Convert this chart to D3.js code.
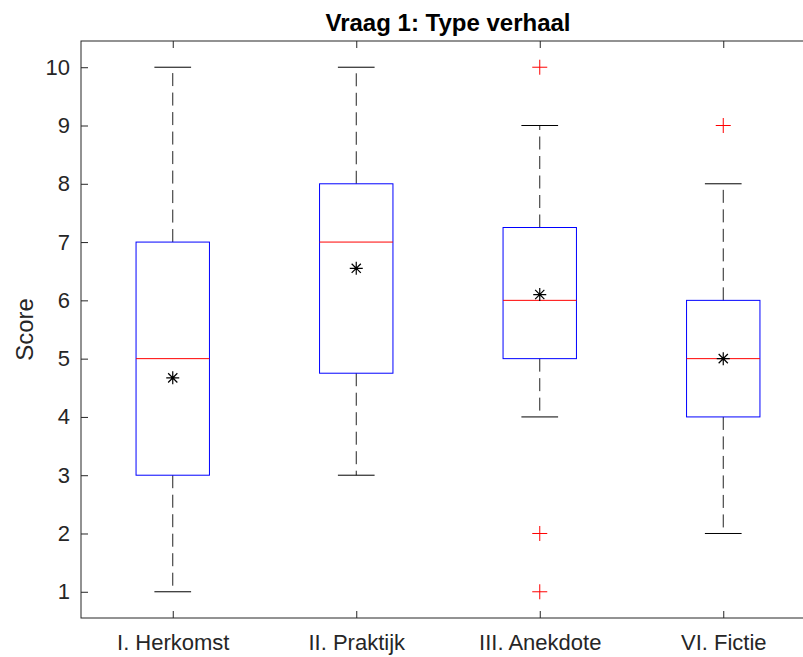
<!DOCTYPE html>
<html>
<head>
<meta charset="utf-8">
<script src="https://cdn.jsdelivr.net/npm/d3@7"></script>
<style>
  body { margin: 0; background: #fff; }
  text { font-family: "Liberation Sans", Arial, sans-serif; fill: #262626; }
</style>
</head>
<body>
<div id="chart"></div>
<script>
// Boxplot values per category
const categories = ['I. Herkomst', 'II. Praktijk', 'III. Anekdote', 'VI. Fictie']
const whiskerLow = [1, 3, 4, 2]
const q1 = [3, 4.75, 5, 4]
const medians = [5, 7, 6, 5]
const q3 = [7, 8, 7.25, 6]
const whiskerHigh = [10, 10, 9, 8]
const means = [4.67, 6.55, 6.1, 5.0]
const outliers = [[], [], [10, 2, 1], [9]]
const yTicks = [1, 2, 3, 4, 5, 6, 7, 8, 9, 10]

const width = 803,
      height = 657,
      plotLeft = 81, plotRight = 815, plotTop = 41, plotBottom = 618,
      tickLen = 7

let svg = d3.select('#chart')
  .append('svg')
  .attr('width', width)
  .attr('height', height)

let x = d3.scaleLinear()
  .domain([0.5, categories.length + 0.5])
  .range([plotLeft, plotRight])

let y = d3.scaleLinear()
  .domain([0.55, 10.45])
  .range([plotBottom, plotTop])

const boxHalf = x(1.2) - x(1),
      capHalf = x(1.1) - x(1)

let data = categories.map((c, i) => ({
  i: i + 1, name: c,
  lo: whiskerLow[i], q1: q1[i], med: medians[i], q3: q3[i], hi: whiskerHigh[i],
  mean: means[i], out: outliers[i]
}))

// axes box and ticks
let axisColor = '#262626'
svg.append('rect')
  .attr('x', plotLeft).attr('y', plotTop)
  .attr('width', plotRight - plotLeft).attr('height', plotBottom - plotTop)
  .attr('fill', 'none').attr('stroke', axisColor).attr('stroke-width', 1)

let yAxis = svg.append('g').attr('transform', `translate(${plotLeft},0)`)
  .call(d3.axisLeft(y).tickValues(yTicks).tickSizeInner(-tickLen).tickSizeOuter(0).tickPadding(11))
yAxis.select('.domain').remove()
yAxis.selectAll('text').attr('font-size', 22).attr('fill', axisColor)
yAxis.selectAll('line').attr('stroke', axisColor)

let yAxisR = svg.append('g').attr('transform', `translate(${plotRight},0)`)
  .call(d3.axisRight(y).tickValues(yTicks).tickSizeInner(-tickLen).tickSizeOuter(0).tickFormat(''))
yAxisR.select('.domain').remove()
yAxisR.selectAll('line').attr('stroke', axisColor)

let xAxis = svg.append('g').attr('transform', `translate(0,${plotBottom})`)
  .call(d3.axisBottom(x).tickValues(d3.range(1, categories.length + 1))
    .tickFormat(d => categories[d - 1]).tickSizeInner(-tickLen).tickSizeOuter(0).tickPadding(16))
xAxis.select('.domain').remove()
xAxis.selectAll('text').attr('font-size', 22).attr('fill', axisColor)
xAxis.selectAll('line').attr('stroke', axisColor)

let xAxisT = svg.append('g').attr('transform', `translate(0,${plotTop})`)
  .call(d3.axisTop(x).tickValues(d3.range(1, categories.length + 1))
    .tickFormat('').tickSizeInner(-tickLen).tickSizeOuter(0))
xAxisT.select('.domain').remove()
xAxisT.selectAll('line').attr('stroke', axisColor)

// title and label
svg.append('text')
  .attr('x', (plotLeft + plotRight) / 2).attr('y', 31)
  .attr('text-anchor', 'middle')
  .attr('font-size', 24).attr('font-weight', 'bold')
  .style('fill', '#000')
  .text('Vraag 1: Type verhaal')

svg.append('text')
  .attr('transform', `translate(33,${(plotTop + plotBottom) / 2}) rotate(-90)`)
  .attr('text-anchor', 'middle')
  .attr('font-size', 24)
  .text('Score')

// boxes
let g = svg.selectAll('.box')
  .data(data)
  .enter()
  .append('g')
  .attr('class', 'box')

// whiskers
g.append('line')
  .attr('x1', d => x(d.i)).attr('x2', d => x(d.i))
  .attr('y1', d => y(d.q3)).attr('y2', d => y(d.hi))
  .attr('stroke', '#222').attr('stroke-dasharray', '13,6.5')
g.append('line')
  .attr('x1', d => x(d.i)).attr('x2', d => x(d.i))
  .attr('y1', d => y(d.q1)).attr('y2', d => y(d.lo))
  .attr('stroke', '#222').attr('stroke-dasharray', '13,6.5')
g.append('line')
  .attr('x1', d => x(d.i) - capHalf).attr('x2', d => x(d.i) + capHalf)
  .attr('y1', d => y(d.hi)).attr('y2', d => y(d.hi))
  .attr('stroke', '#000')
g.append('line')
  .attr('x1', d => x(d.i) - capHalf).attr('x2', d => x(d.i) + capHalf)
  .attr('y1', d => y(d.lo)).attr('y2', d => y(d.lo))
  .attr('stroke', '#000')

g.append('rect')
  .attr('x', d => x(d.i) - boxHalf)
  .attr('y', d => y(d.q3))
  .attr('width', boxHalf * 2)
  .attr('height', d => y(d.q1) - y(d.q3))
  .attr('fill', 'none').attr('stroke', '#0000ff')

g.append('line')
  .attr('x1', d => x(d.i) - boxHalf).attr('x2', d => x(d.i) + boxHalf)
  .attr('y1', d => y(d.med)).attr('y2', d => y(d.med))
  .attr('stroke', '#ff0000')

// outliers as red +
g.each(function(d) {
  d3.select(this).selectAll('.out')
    .data(d.out)
    .enter()
    .append('path')
    .attr('d', v => `M${x(d.i) - 7.5},${y(v)}H${x(d.i) + 7.5}M${x(d.i)},${y(v) - 7.5}V${y(v) + 7.5}`)
    .attr('stroke', '#ff0000').attr('fill', 'none')
})

// means as black asterisk
g.append('path')
  .attr('d', d => {
    let cx = x(d.i), cy = y(d.mean), r = 6.5, s = r * 0.7071
    return `M${cx - r},${cy}H${cx + r}M${cx},${cy - r}V${cy + r}` +
      `M${cx - s},${cy - s}L${cx + s},${cy + s}M${cx - s},${cy + s}L${cx + s},${cy - s}`
  })
  .attr('stroke', '#000').attr('stroke-width', 1.2).attr('fill', 'none')
</script>
</body>
</html>
